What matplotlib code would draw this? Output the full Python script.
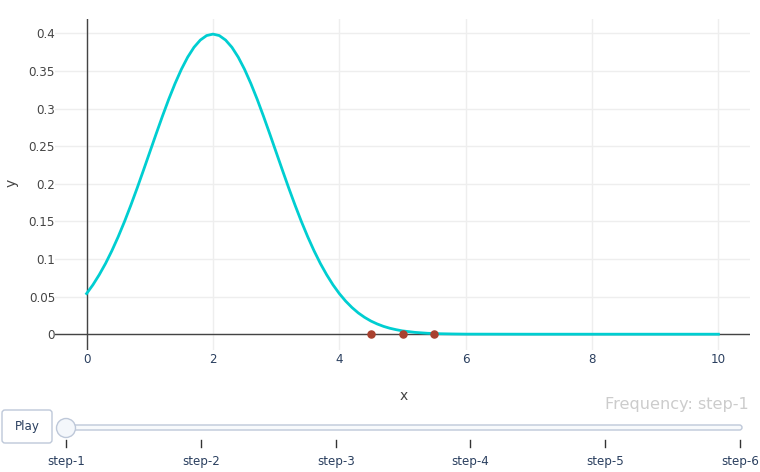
import matplotlib
matplotlib.use("Agg")
import matplotlib.pyplot as plt
from matplotlib.patches import FancyBboxPatch, Circle

plt.rcParams['font.family'] = ['DejaVu Sans']

# curve
x_curve = [0.0, 0.1, 0.2, 0.3, 0.4, 0.5, 0.6, 0.7, 0.8, 0.9,
           1.0, 1.1, 1.2, 1.3, 1.4, 1.5, 1.6, 1.7, 1.8, 1.9,
           2.0, 2.1, 2.2, 2.3, 2.4, 2.5, 2.6, 2.7, 2.8, 2.9,
           3.0, 3.1, 3.2, 3.3, 3.4, 3.5, 3.6, 3.7, 3.8, 3.9,
           4.0, 4.1, 4.2, 4.3, 4.4, 4.5, 4.6, 4.7, 4.8, 4.9,
           5.0, 5.2, 5.4, 5.6, 5.8, 6.0, 7.0, 8.0, 9.0, 10.0]
y_curve = [0.0540, 0.0656, 0.0790, 0.0940, 0.1109, 0.1295, 0.1497, 0.1714, 0.1942, 0.2179,
           0.2420, 0.2661, 0.2897, 0.3123, 0.3332, 0.3521, 0.3683, 0.3814, 0.3910, 0.3970,
           0.3989, 0.3970, 0.3910, 0.3814, 0.3683, 0.3521, 0.3332, 0.3123, 0.2897, 0.2661,
           0.2420, 0.2179, 0.1942, 0.1714, 0.1497, 0.1295, 0.1109, 0.0940, 0.0790, 0.0656,
           0.0540, 0.0440, 0.0355, 0.0283, 0.0224, 0.0175, 0.0136, 0.0104, 0.0079, 0.0060,
           0.0044, 0.0024, 0.0012, 0.0006, 0.0003, 0.0001, 0.0, 0.0, 0.0, 0.0]

x_pts = [4.5, 5.0, 5.5]
y_pts = [0, 0, 0]

steps = ['step-1', 'step-2', 'step-3', 'step-4', 'step-5', 'step-6']
current = 'step-1'

W, H = 760, 472
fig = plt.figure(figsize=(W / 100, H / 100), dpi=100)
ax = fig.add_axes([55 / W, 1 - 350 / H, 695 / W, 331 / H])

ax.set_xlim(-0.5, 10.5)
ax.set_ylim(-0.021, 0.419)
ax.set_xticks([0, 2, 4, 6, 8, 10])
ax.set_yticks([0, 0.05, 0.1, 0.15, 0.2, 0.25, 0.3, 0.35, 0.4])
ax.set_yticklabels(['0', '0.05', '0.1', '0.15', '0.2', '0.25', '0.3', '0.35', '0.4'])
ax.grid(True, color='#eeeeee', lw=1)
ax.set_axisbelow(True)
for s in ax.spines.values():
    s.set_visible(False)
ax.tick_params(length=0, labelsize=8.6, colors='#444444')
ax.tick_params(axis='y', pad=0)
ax.tick_params(axis='x', pad=2, labelcolor='#2a3f5f')
ax.axhline(0, color='#444444', lw=1, zorder=1)
ax.axvline(0, color='#444444', lw=1, zorder=1)

ax.plot(x_curve, y_curve, color='#00ced1', lw=2, zorder=3)
ax.scatter(x_pts, y_pts, s=26, color='#a9412f', zorder=4)

ax.set_xlabel('x', fontsize=10, color='#444444')
ax.set_ylabel('y', fontsize=10, color='#444444')
ax.xaxis.set_label_coords((404 - 55) / 695, (350 - 389) / 331)
ax.yaxis.set_label_coords((19 - 55) / 695, (350 - 183) / 331)

# slider and play button, drawn in pixel space
ov = fig.add_axes([0, 0, 1, 1])
ov.set_xlim(0, W)
ov.set_ylim(H, 0)
ov.axis('off')

ov.text(749, 405, 'Frequency: ' + current, ha='right', va='center',
        fontsize=11.6, color='#cccccc')

ov.add_patch(FancyBboxPatch((2, 410), 50, 33, boxstyle='round,pad=0,rounding_size=3',
                            fc='white', ec='#bec8d9', lw=1))
ov.text(27, 426.5, 'Play', ha='center', va='center', fontsize=8.6, color='#2a3f5f')

tick_x = [66, 201, 336, 470, 605, 740]
ov.add_patch(FancyBboxPatch((60, 425), 682, 5, boxstyle='round,pad=0,rounding_size=2.5',
                            fc='#f8fafc', ec='#bec8d9', lw=1))
for tx, lab in zip(tick_x, steps):
    ov.plot([tx, tx], [440, 447], color='#333333', lw=1)
    ov.text(tx, 462, lab, ha='center', va='center', fontsize=8.6, color='#2a3f5f')
ov.add_patch(Circle((tick_x[steps.index(current)], 428), 9.5, fc='#f4f7fb', ec='#bec8d9',
                    lw=1, zorder=5))

fig.savefig('out.png', dpi=100)
